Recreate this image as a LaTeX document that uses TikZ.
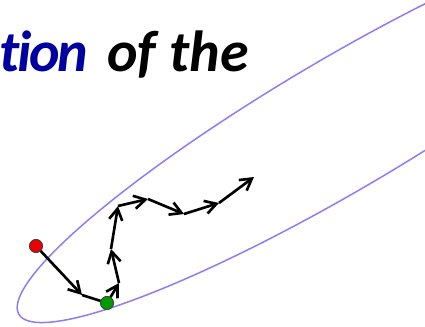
\documentclass[tikz,border=0pt]{standalone}
\usepackage{fontspec}
\setmainfont{Carlito}[Ligatures=NoCommon]
\newfontfamily\headfont{Carlito}[Ligatures=NoCommon,LetterSpace=-4]
\usetikzlibrary{arrows.meta}
\definecolor{ring}{RGB}{140,125,245}
\definecolor{navy}{RGB}{0,0,160}
\definecolor{start}{RGB}{235,0,0}
\definecolor{goal}{RGB}{0,155,0}

\begin{document}
\begin{tikzpicture}[x=0.02cm,y=-0.02cm,
 title/.style={font=\fontsize{33}{38}\selectfont\bfseries\itshape,inner sep=0pt},
 dot/.style={circle,draw=black!75,line width=.4pt,inner sep=0pt,minimum size=.26cm},
 hop/.style={-{Straight Barb[length=6.5pt,width=7.5pt]},draw=black,line width=1.5pt},
 link/.style={draw=black,line width=1.5pt}]
\path[use as bounding box] (0,0) rectangle (425,327);
\clip (0,0) rectangle (425,327);
\node[title,anchor=base west,text=navy] (head) at (-1,72) {\headfont tion};
\node[title,anchor=base west] (tail) at (107,72) {of the};
% level set of the cost, tilted
\draw[ring,line width=.85pt] plot[domain=0:360,samples=180,smooth cycle]
 ({342+375*cos(\x)*0.8616-65.7*sin(\x)*0.5075},{124-375*cos(\x)*0.5075-65.7*sin(\x)*0.8616});
% iterates
\coordinate (p1) at (82,295);
\coordinate (p3) at (119,283);
\coordinate (p4) at (111,249);
\coordinate (p5) at (118,206);
\coordinate (p6) at (148,199);
\coordinate (p7) at (184,214);
\coordinate (p8) at (219,203);
\coordinate (p9) at (254,177);
\node[dot,fill=start] (init) at (36,246) {};
\node[dot,fill=goal] (opt) at (107,303) {};
\draw[hop] (init)--(p1);
\draw[link] (p1)--(opt);
\draw[hop] (opt)--(p3);
\foreach \a/\b in {p3/p4,p4/p5,p5/p6,p6/p7,p7/p8,p8/p9}
 \draw[hop] (\a)--(\b);
\node[dot,fill=start] at (init) {};
\node[dot,fill=goal] at (opt) {};
\end{tikzpicture}
\end{document}
